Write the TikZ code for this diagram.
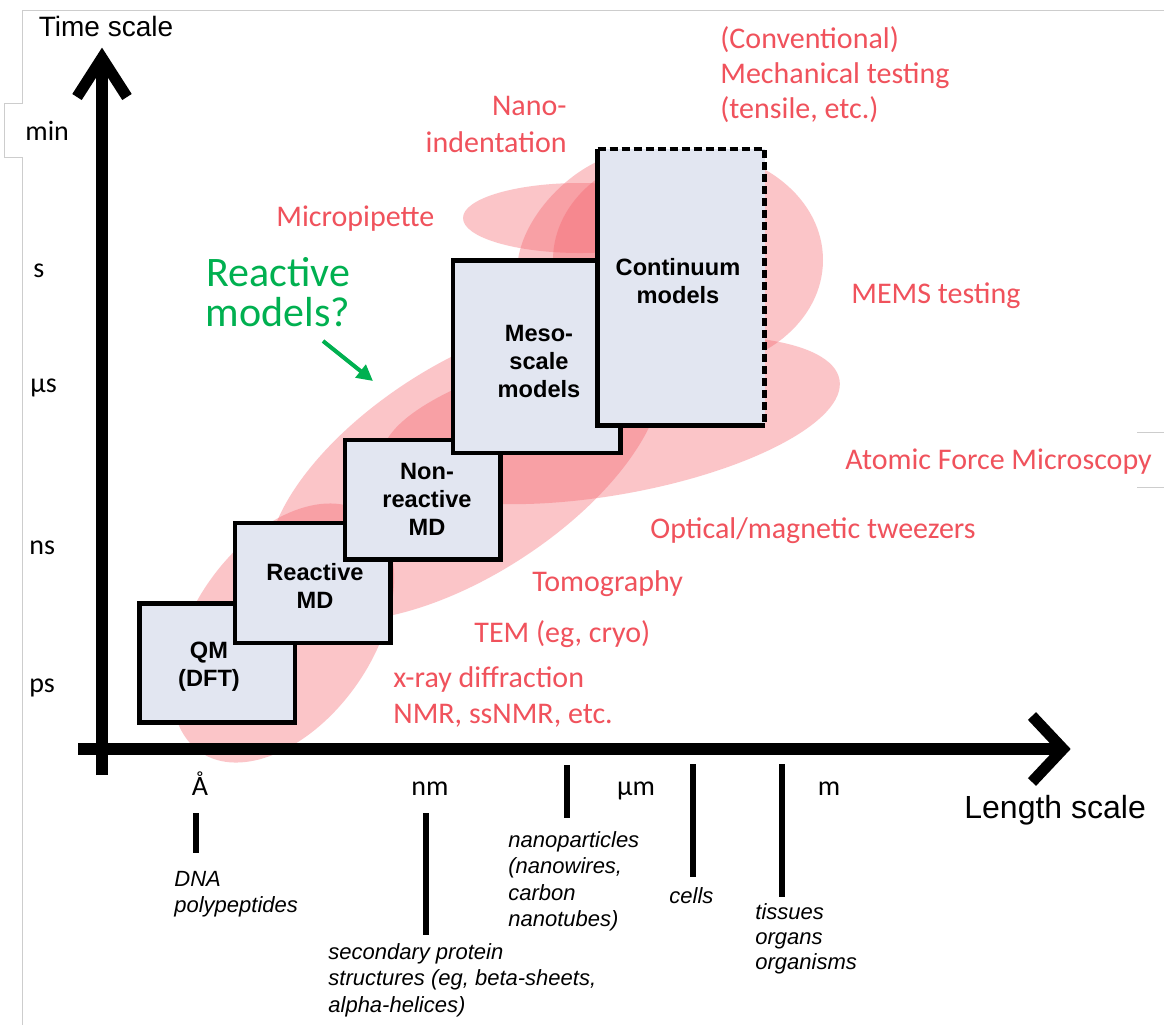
\documentclass[tikz,border=0pt]{standalone}
\usepackage{fontspec}
\setmainfont{Carlito}
\newfontfamily\arialf{Liberation Sans}
\usetikzlibrary{arrows.meta}
\definecolor{lbl}{RGB}{240,82,92}
\definecolor{grn}{RGB}{0,176,80}
\definecolor{boxfill}{RGB}{226,230,241}
\definecolor{pk}{RGB}{245,95,105}
\definecolor{framecol}{RGB}{205,205,205}
\begin{document}
\begin{tikzpicture}[x=0.5pt,y=-0.5pt,
  blob/.style={fill=pk,fill opacity=0.36},
  modelbox/.style={draw=black,line width=2.4pt,fill=boxfill,line join=miter},
  boxtext/.style={font=\arialf\bfseries\fontsize{11.8}{14}\selectfont,align=center,inner sep=0pt},
  redlbl/.style={text=lbl,font=\fontsize{15}{18}\selectfont,inner sep=0pt},
  grnlbl/.style={text=grn,font=\fontsize{21}{20}\selectfont,inner sep=0pt,align=center},
  ylbl/.style={font=\fontsize{14}{16}\selectfont,inner sep=0pt,anchor=base west},
  xlbl/.style={font=\fontsize{14}{16}\selectfont,inner sep=0pt,anchor=base},
  desc/.style={font=\arialf\itshape\fontsize{11}{13}\selectfont,inner sep=0pt,anchor=base west},
  tickbar/.style={line width=3pt},
  axisline/.style={line width=5.6pt,line join=miter},
  framel/.style={draw=framecol,line width=0.5pt}]
\useasboundingbox (0,0) rectangle (1164,1025);
\fill[white] (0,0) rectangle (1164,1025);
% frame remnants
\draw[framel] (1164,10) -- (22,10) -- (22,103) -- (4,103) -- (4,157) -- (22,157) -- (22,1025);
\draw[framel] (1137,432) -- (1164,432);
\draw[framel] (1137,487) -- (1164,487);
% pink regions
\fill[blob,rotate around={55:(283,633)}] (283,633) ellipse [x radius=145,y radius=90];
\fill[blob,rotate around={33:(465,470)}] (465,470) ellipse [x radius=225,y radius=105];
\fill[blob,rotate around={10:(611,420)}] (611,420) ellipse [x radius=232,y radius=75];
\fill[blob] (580,218) ellipse [x radius=117,y radius=35];
\fill[blob,rotate around={45:(595,230)}] (595,230) ellipse [x radius=95,y radius=55];
\fill[blob] (688,260) ellipse [x radius=135,y radius=110];
% model boxes
\draw[modelbox] (139.5,603.5) rectangle (295,722.5);
\draw[modelbox] (235,523) rectangle (390.5,643);
\draw[modelbox] (345,440) rectangle (500.5,559.5);
\draw[modelbox] (453,260.5) rectangle (620.5,453);
\fill[boxfill] (597.5,149) rectangle (764.5,425.5);
\draw[line width=2.4pt,line join=miter] (597.5,149) -- (597.5,425.5) -- (764.5,425.5);
\draw[line width=2.4pt,dash pattern=on 4pt off 2pt] (597.5,149) -- (764.5,149) -- (764.5,425.5);
\node[boxtext] (qm) at (209,667) {QM\\(DFT)};
\node[boxtext] (rmd) at (315,586) {Reactive\\MD};
\node[boxtext] (nrmd) at (427,499) {Non-\\reactive\\MD};
\node[boxtext] (meso) at (539,361) {Meso-\\scale\\models};
\node[boxtext] (cont) at (678,281) {Continuum\\models};
% axes
\draw[axisline] (102,775) -- (102,60);
\draw[axisline] (77,97) -- (102,58) -- (127,97);
\draw[axisline] (78,749) -- (1060,749);
\draw[axisline] (1032,716) -- (1063,749) -- (1032,782);
% ticks
\draw[tickbar] (196,813) -- (196,853);
\draw[tickbar] (426,813) -- (426,935);
\draw[tickbar] (567,765) -- (567,818);
\draw[tickbar] (693,764) -- (693,877);
\draw[tickbar] (782,764) -- (782,897);
% axis titles
\node[font=\arialf\fontsize{14}{16}\selectfont,inner sep=0pt,anchor=base] (tscale) at (106,36) {Time scale};
\node[font=\arialf\fontsize{16}{18}\selectfont,inner sep=0pt,anchor=base west] (lscale) at (964,818) {Length scale};
% y labels
\node[ylbl] (ymin) at (25,140) {min};
\node[ylbl] (ys) at (33,277) {s};
\node[ylbl] (yus) at (30,392) {µs};
\node[ylbl] (yns) at (29,554) {ns};
\node[ylbl] (yps) at (29,692) {ps};
% x labels
\node[xlbl] (xa) at (200,795) {Å};
\node[xlbl] (xnm) at (430,795) {nm};
\node[xlbl] (xum) at (636,795) {µm};
\node[xlbl] (xm) at (829,795) {m};
% red method labels
\node[redlbl,anchor=base west] (mech1) at (720,48) {(Conventional)};
\node[redlbl,anchor=base west] (mech2) at (720,83) {Mechanical testing};
\node[redlbl,anchor=base west] (mech3) at (720,118) {(tensile, etc.)};
\node[redlbl,anchor=base east] (nano1) at (567,115) {Nano-};
\node[redlbl,anchor=base east] (nano2) at (567,152) {indentation};
\node[redlbl,anchor=base west] (micro) at (276,226) {Micropipette};
\node[redlbl,anchor=base west] (mems) at (851,303) {MEMS testing};
\node[redlbl,anchor=base west] (afm) at (845,469) {Atomic Force Microscopy};
\node[redlbl,anchor=base west] (tweez) at (650,538) {Optical/magnetic tweezers};
\node[redlbl,anchor=base west] (tomo) at (532,591) {Tomography};
\node[redlbl,anchor=base west] (tem) at (474,642) {TEM (eg, cryo)};
\node[redlbl,anchor=base west] (xray) at (393,687) {x-ray diffraction};
\node[redlbl,anchor=base west] (nmr) at (393,723) {NMR, ssNMR, etc.};
% green
\node[grnlbl] (react) at (278,292) {Reactive\\models?};
\coordinate (gtail) at (323,341);
\coordinate (gtip) at (373,381);
\draw[grn,line width=2pt,-{Triangle[length=8pt,width=8pt]}] (gtail) -- (gtip);
% descriptions
\node[desc] (d1a) at (174,886) {DNA};
\node[desc] (d1b) at (174,912) {polypeptides};
\node[desc] (d2a) at (328,959) {secondary protein};
\node[desc] (d2b) at (328,985) {structures (eg, beta-sheets,};
\node[desc] (d2c) at (328,1012) {alpha-helices)};
\node[desc] (d3a) at (508,847) {nanoparticles};
\node[desc] (d3b) at (508,873) {(nanowires,};
\node[desc] (d3c) at (508,900) {carbon};
\node[desc] (d3d) at (508,926) {nanotubes)};
\node[desc] (d4) at (669,903) {cells};
\node[desc] (d5a) at (755,919) {tissues};
\node[desc] (d5b) at (755,944) {organs};
\node[desc] (d5c) at (755,969) {organisms};
\end{tikzpicture}
\end{document}
